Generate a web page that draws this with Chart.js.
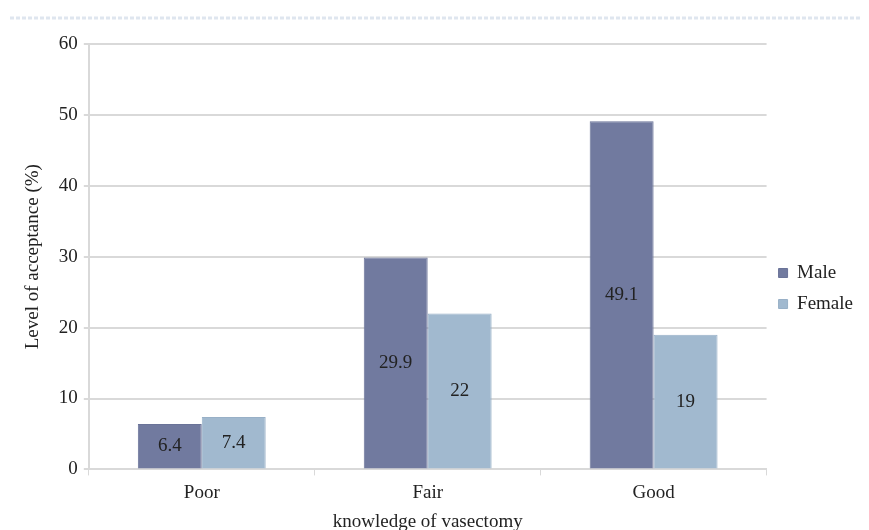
<!DOCTYPE html>
<html>
<head>
<meta charset="utf-8">
<script src="https://cdn.jsdelivr.net/npm/chart.js@4"></script>
<style>
  body { margin: 0; background: #fff; }
  #wrap { width: 869px; height: 530px; }
</style>
</head>
<body>
<div id="wrap"><canvas id="acceptChart" width="869" height="530"></canvas></div>
<script>
const categories = ["Poor", "Fair", "Good"];
const maleValues = [6.4, 29.9, 49.1];
const femaleValues = [7.4, 22, 19];
const yTicks = [0, 10, 20, 30, 40, 50, 60];

const serif = "'Liberation Serif', 'Times New Roman', serif";

// values written inside each bar
const barLabels = {
  id: "barLabels",
  afterDatasetsDraw(chart) {
    const ctx = chart.ctx;
    ctx.save();
    ctx.font = "19px " + serif;
    ctx.fillStyle = "#222";
    ctx.textAlign = "center";
    ctx.textBaseline = "middle";
    chart.data.datasets.forEach((ds, i) => {
      chart.getDatasetMeta(i).data.forEach((bar, j) => {
        const y = (bar.y + bar.base) / 2;
        ctx.fillText(String(ds.data[j]), bar.x, y);
      });
    });
    ctx.restore();
  },
};

// faint dashed rule at the top of the figure
const topRule = {
  id: "topRule",
  beforeDraw(chart) {
    const ctx = chart.ctx;
    ctx.save();
    ctx.strokeStyle = "#dfe6ef";
    ctx.lineWidth = 3;
    ctx.setLineDash([4, 2]);
    ctx.beginPath();
    ctx.moveTo(10, 18);
    ctx.lineTo(860, 18);
    ctx.stroke();
    ctx.restore();
  },
};

new Chart(document.getElementById("acceptChart"), {
  type: "bar",
  data: {
    labels: categories,
    datasets: [
      {
        label: "Male",
        data: maleValues,
        backgroundColor: "#717a9f",
        borderColor: "#6a7398",
        borderWidth: 1,
      },
      {
        label: "Female",
        data: femaleValues,
        backgroundColor: "#a1b9cf",
        borderColor: "#98b0c7",
        borderWidth: 1,
      },
    ],
  },
  options: {
    responsive: false,
    animation: false,
    categoryPercentage: 0.566,
    barPercentage: 1,
    layout: { padding: { top: 44, left: 22, right: 6, bottom: -3 } },
    plugins: {
      legend: {
        position: "right",
        align: "center",
        labels: {
          boxWidth: 9,
          boxHeight: 9,
          padding: 12,
          color: "#222",
          font: { family: serif, size: 19 },
        },
      },
      tooltip: { enabled: false },
    },
    scales: {
      x: {
        grid: {
          offset: true,
          drawOnChartArea: false,
          drawTicks: true,
          tickLength: 6,
          color: "#d9d9d9",
        },
        border: { color: "#d9d9d9", width: 2 },
        ticks: { color: "#222", font: { family: serif, size: 19 }, padding: 6 },
        title: {
          display: true,
          text: "knowledge of vasectomy",
          color: "#222",
          font: { family: serif, size: 19 },
          padding: { top: 0, bottom: 0 },
        },
      },
      y: {
        min: 0,
        max: 60,
        afterBuildTicks(axis) {
          axis.ticks = yTicks.map((v) => ({ value: v }));
        },
        grid: { color: "#d9d9d9", lineWidth: 2, tickLength: 5 },
        border: { color: "#d9d9d9", width: 2 },
        ticks: { color: "#222", font: { family: serif, size: 19 }, padding: 6 },
        title: {
          display: true,
          text: "Level of acceptance (%)",
          color: "#222",
          font: { family: serif, size: 19 },
          padding: { top: 0, bottom: 8 },
        },
      },
    },
  },
  plugins: [barLabels, topRule],
});
</script>
</body>
</html>
